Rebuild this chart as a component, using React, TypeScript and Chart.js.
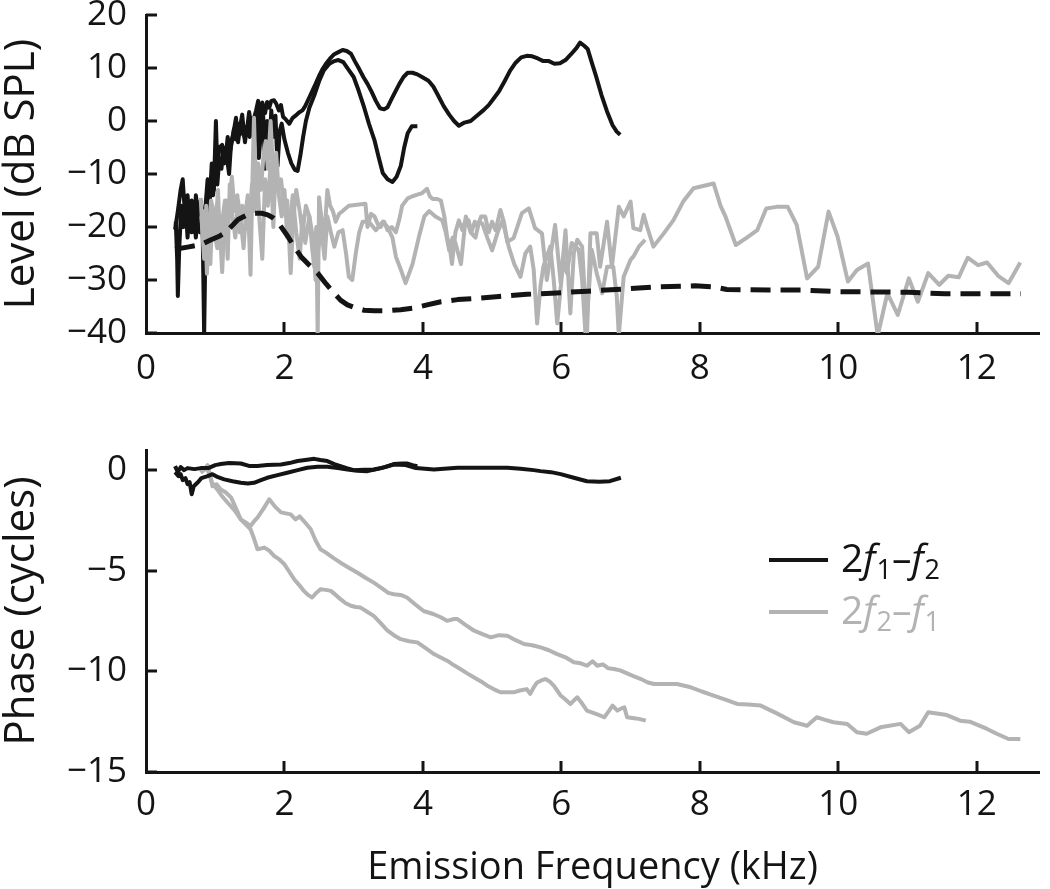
import React, { useEffect, useRef } from 'react';
import { Chart, registerables } from 'chart.js';

Chart.register(...registerables);

const FONT = '"Open Sans", "DejaVu Sans", sans-serif';
const BLACK = '#141414';
const GRAY = '#b3b3b3';

// ---------- tick values ----------
const freqTicks = [0, 2, 4, 6, 8, 10, 12];
const levelTicks = [-40, -30, -20, -10, 0, 10, 20];
const phaseTicks = [-15, -10, -5, 0];

// ---------- Level panel: [kHz, dB SPL] ----------
const levelBlackA: [number, number][] = [
  [0.42, -20.5], [0.46, -17], [0.5, -13], [0.53, -11], [0.56, -17], [0.6, -14], [0.63, -19], [0.66, -15],
  [0.7, -21], [0.72, -14], [0.76, -18], [0.79, -15], [0.82, -20], [0.86, -16], [0.89, -11], [0.92, -15],
  [0.95, -8], [0.98, -13], [1.01, 0], [1.03, -9], [1.06, -5], [1.1, -4.5], [1.13, -8], [1.16, -6],
  [1.2, -10], [1.23, -4], [1.26, -2.5], [1.3, 0.6], [1.33, -4], [1.36, -1], [1.39, 1.2], [1.42, -3],
  [1.46, -1.5], [1.49, 1.7], [1.52, -1], [1.55, 0], [1.59, 2], [1.62, 3.8], [1.65, -1], [1.68, 3.5],
  [1.72, 1.5], [1.75, 3.6], [1.78, 2.5], [1.81, 3.8], [1.85, 3.9], [1.88, 3.3], [1.92, 2], [1.95, 3],
  [1.98, 0.8], [2.02, 0.3], [2.07, -0.5], [2.12, 0.6], [2.16, 1], [2.21, 1.6], [2.26, 2], [2.3, 2.8],
  [2.35, 4.2], [2.4, 5.6], [2.45, 7], [2.5, 8.5], [2.55, 9.8], [2.6, 10.8], [2.66, 11.8], [2.72, 12.6],
  [2.78, 13], [2.84, 13.4], [2.9, 13.2], [2.96, 12.7], [3.02, 11.2], [3.08, 9.8], [3.14, 8.3], [3.2, 7],
  [3.26, 5.5], [3.32, 3.8], [3.38, 2.4], [3.44, 2.2], [3.49, 2.6], [3.55, 4.2], [3.6, 5.5], [3.66, 7],
  [3.72, 8.3], [3.78, 9.1], [3.85, 9.1], [3.92, 8.8], [4.0, 8.2], [4.08, 7.6], [4.15, 6.5], [4.22, 4.8],
  [4.3, 2.8], [4.38, 1.2], [4.45, 0], [4.52, -0.9], [4.6, -0.3], [4.69, 0], [4.78, 1], [4.88, 2.1],
  [4.95, 3], [5.02, 4.2], [5.1, 5.6], [5.18, 7.5], [5.26, 9.5], [5.34, 11], [5.42, 12], [5.5, 12.3],
  [5.58, 12.2], [5.66, 11.8], [5.74, 11.3], [5.82, 11.3], [5.9, 10.8], [5.98, 10.9], [6.06, 11.5],
  [6.14, 12.6], [6.22, 13.8], [6.27, 14.8], [6.33, 14.2], [6.38, 13.6], [6.44, 11], [6.5, 8.5],
  [6.58, 4.9], [6.66, 1.8], [6.74, -0.8], [6.8, -2], [6.85, -2.6],
];

const levelBlackB: [number, number][] = [
  [0.43, -19], [0.45, -26], [0.46, -33], [0.48, -24], [0.51, -16], [0.54, -20], [0.57, -15], [0.6, -22],
  [0.63, -16], [0.66, -21], [0.69, -17], [0.72, -22], [0.75, -16], [0.78, -21], [0.8, -17], [0.82, -22],
  [0.84, -40.5], [0.86, -22], [0.88, -15.5], [0.91, -17], [0.94, -12], [0.97, -14], [1.0, -9], [1.03, -12],
  [1.06, -7], [1.09, -9], [1.12, -5], [1.15, -7], [1.18, -3], [1.21, -6], [1.24, -4], [1.27, -1.5],
  [1.3, -3.5], [1.33, -0.5], [1.36, -2.5], [1.4, -0.5], [1.43, -4], [1.46, -1], [1.5, -3], [1.53, 0.5],
  [1.56, -2], [1.6, 1.5], [1.63, -7], [1.66, -2], [1.69, 2], [1.72, -9], [1.75, 0], [1.78, -6],
  [1.81, 2], [1.84, -3], [1.87, 1], [1.9, -8.5], [1.93, -2], [1.96, -0.5], [2.0, -3.5], [2.05, -6],
  [2.1, -8], [2.15, -9.2], [2.19, -9.4], [2.23, -6.5], [2.27, -3], [2.31, 0], [2.36, 2.5], [2.43, 4.8],
  [2.5, 7.5], [2.57, 9.6], [2.65, 10.8], [2.72, 11.3], [2.78, 11.5], [2.85, 11.1], [2.92, 9.8], [3.0, 8.3],
  [3.07, 5.8], [3.15, 2.6], [3.22, -0.5], [3.3, -3.6], [3.36, -6.8], [3.42, -9.8], [3.49, -11], [3.56, -11.5],
  [3.62, -10.5], [3.68, -8.5], [3.73, -5], [3.78, -2.3], [3.84, -1], [3.92, -1],
];

const levelGrayC: [number, number][] = [
  [0.79, -14.5], [0.82, -22], [0.85, -17], [0.88, -28.8], [0.91, -20], [0.94, -15], [0.97, -17], [1.0, -22],
  [1.03, -24], [1.06, -18], [1.1, -28.5], [1.13, -20], [1.17, -15], [1.2, -17], [1.24, -10.5], [1.28, -17],
  [1.32, -14], [1.35, -21], [1.39, -16], [1.43, -18], [1.47, -14], [1.51, -29], [1.54, -10], [1.56, 0.6],
  [1.59, -14], [1.62, -8], [1.66, -13], [1.7, -6], [1.73, -3.8], [1.76, -9], [1.8, 0], [1.83, -8],
  [1.86, -10], [1.9, -13], [1.95, -11], [2.0, -17], [2.04, -15], [2.09, -28.7], [2.13, -18], [2.17, -13],
  [2.22, -17], [2.26, -21], [2.31, -16], [2.36, -18], [2.4, -24], [2.43, -27.5], [2.46, -20], [2.48, -40.5],
  [2.5, -14.4], [2.54, -19], [2.57, -23], [2.62, -13], [2.66, -16], [2.7, -17], [2.74, -19], [2.79, -17.5],
  [2.84, -17], [2.93, -16], [3.05, -15.8], [3.17, -15.6], [3.2, -20], [3.25, -17.5], [3.3, -18], [3.35, -19.5],
  [3.39, -20], [3.44, -19], [3.49, -20.6], [3.55, -20], [3.61, -21], [3.66, -18.5], [3.7, -16], [3.78, -14.6],
  [3.85, -14.2], [3.92, -13.9], [3.99, -13.6], [4.06, -12.8], [4.1, -14.2], [4.14, -14.7], [4.2, -14.7],
  [4.26, -15], [4.31, -18], [4.35, -21.9], [4.39, -24], [4.42, -27], [4.47, -21], [4.52, -18.75], [4.57, -20.6],
  [4.62, -18.5], [4.66, -18.75], [4.7, -21], [4.75, -19], [4.79, -20], [4.84, -18], [4.9, -18], [4.95, -21],
  [5.0, -19], [5.05, -20.6], [5.12, -16.8], [5.17, -19], [5.22, -22.8], [5.31, -22.1], [5.43, -17.4],
  [5.53, -16.5], [5.62, -20.2], [5.72, -21.2], [5.79, -30], [5.86, -24], [5.91, -19.6], [5.99, -30.6],
  [6.06, -20.6], [6.13, -36.3], [6.18, -25], [6.23, -22.4], [6.3, -23.7], [6.37, -40.5], [6.42, -21.2],
  [6.51, -21.2], [6.56, -27.5], [6.66, -19], [6.73, -27.5], [6.83, -16.2], [6.9, -18], [7.0, -15.2],
  [7.04, -20.2], [7.14, -20.6], [7.19, -17.7], [7.24, -20], [7.33, -23.7], [7.48, -21.2], [7.62, -18.7],
  [7.76, -15.2], [7.91, -12.7], [8.2, -11.8], [8.3, -16], [8.37, -18], [8.52, -23.4], [8.67, -22.1],
  [8.83, -20.6], [8.96, -16.5], [9.11, -16.2], [9.27, -16.2], [9.4, -19.6], [9.55, -29.7], [9.71, -27.5],
  [9.86, -17.1], [9.99, -21.8], [10.14, -30.3], [10.27, -28.1], [10.43, -26.9], [10.57, -40.5], [10.71, -32.5],
  [10.86, -36.6], [11.02, -29.7], [11.15, -34.1], [11.3, -28.7], [11.46, -30.9], [11.59, -29.2], [11.74, -29.5],
  [11.87, -25.8], [12.02, -27.2], [12.15, -26.7], [12.31, -29.2], [12.46, -30.6], [12.63, -26.7],
];

const levelGrayD: [number, number][] = [
  [0.8, -18], [0.84, -26], [0.87, -16], [0.9, -22], [0.93, -27], [0.96, -16], [1.0, -21], [1.04, -13],
  [1.07, -24], [1.1, -19], [1.14, -15], [1.18, -26], [1.21, -12], [1.25, -18], [1.29, -22], [1.33, -15],
  [1.37, -19], [1.41, -24], [1.45, -16], [1.49, -21], [1.53, -12], [1.57, -17], [1.6, -8], [1.64, -19],
  [1.68, -26], [1.72, -11], [1.76, -16], [1.8, -8], [1.84, -20], [1.88, -6], [1.92, -14], [1.96, -18],
  [2.0, -13], [2.04, -22], [2.08, -19], [2.12, -14], [2.17, -21], [2.22, -26], [2.26, -18], [2.3, -23],
  [2.36, -18], [2.41, -22], [2.45, -30], [2.49, -24], [2.53, -20], [2.58, -26], [2.62, -18], [2.67, -21],
  [2.72, -23.7], [2.78, -21], [2.84, -20.6], [2.89, -25], [2.93, -29.4], [2.98, -30], [3.03, -25], [3.08, -21],
  [3.13, -19], [3.22, -19], [3.32, -20.6], [3.42, -19], [3.49, -20], [3.56, -22], [3.61, -25.6], [3.68, -28],
  [3.75, -30.6], [3.85, -27], [3.94, -22], [4.02, -18], [4.09, -17], [4.18, -18], [4.28, -18.75], [4.33, -21],
  [4.38, -24.4], [4.43, -22], [4.47, -23], [4.55, -27], [4.62, -18], [4.69, -21], [4.76, -22], [4.81, -19],
  [4.86, -19.4], [4.93, -22], [5.0, -24.4], [5.08, -21], [5.15, -18.75], [5.24, -23.75], [5.32, -27],
  [5.41, -29.4], [5.48, -25], [5.55, -23.7], [5.6, -28], [5.65, -38.2], [5.7, -31], [5.74, -27.5],
  [5.84, -23.7], [5.89, -30], [5.94, -38.2], [6.03, -26.2], [6.08, -28.7], [6.15, -23], [6.25, -24.3],
  [6.3, -30], [6.35, -40.5], [6.44, -24.3], [6.51, -28.7], [6.59, -32.5], [6.66, -27.5], [6.75, -27.5],
  [6.8, -33], [6.83, -40.5], [6.9, -29.4], [7.0, -26.2], [7.04, -25.6], [7.12, -23.7], [7.21, -22.4],
];

const levelNoiseFloor: [number, number][] = [
  [0.42, -24.2], [0.6, -23.8], [0.8, -23.3], [0.94, -22.4], [1.05, -21.8], [1.14, -21.1], [1.24, -19.8],
  [1.33, -18.6], [1.45, -17.8], [1.57, -17.4], [1.67, -17.4], [1.76, -17.7], [1.84, -18.3], [1.9, -19],
  [1.97, -20.3], [2.05, -21.8], [2.14, -23.7], [2.24, -25.6], [2.36, -27.2], [2.48, -28.7], [2.6, -30.7],
  [2.72, -32.5], [2.81, -33.8], [2.91, -34.7], [3.03, -35.3], [3.15, -35.7], [3.3, -35.8], [3.49, -35.8],
  [3.68, -35.6], [3.87, -35.3], [4.06, -34.7], [4.26, -34.1], [4.5, -33.7], [4.74, -33.5], [5.1, -33.1],
  [5.5, -32.7], [5.86, -32.5], [6.38, -32.1], [6.9, -31.7], [7.36, -31.3], [7.93, -31.1], [8.2, -31.3],
  [8.39, -31.8], [9.0, -31.9], [9.47, -31.9], [9.99, -32.2], [11.02, -32.3], [11.54, -32.6], [12.64, -32.6],
];

// ---------- Phase panel: [kHz, cycles] ----------
const phaseBlackA: [number, number][] = [
  [0.42, -0.1], [0.47, -0.3], [0.5, -0.2], [0.53, -0.5], [0.57, -0.4], [0.6, -0.7], [0.63, -0.6], [0.66, -1.2],
  [0.69, -0.8], [0.72, -0.7], [0.75, -0.6], [0.8, -0.4], [0.89, -0.3], [0.96, -0.2], [1.04, -0.35], [1.13, -0.46],
  [1.25, -0.55], [1.37, -0.63], [1.47, -0.66], [1.56, -0.63], [1.66, -0.5], [1.75, -0.38], [1.9, -0.25],
  [2.04, -0.13], [2.19, 0], [2.33, 0.12], [2.48, 0.17], [2.62, 0.17], [2.77, 0.1], [2.91, 0.03], [3.05, -0.03],
  [3.2, -0.05], [3.4, 0.1], [3.58, 0.28], [3.75, 0.25], [3.9, 0.1], [4.16, 0.03], [4.5, 0.12], [4.9, 0.12],
  [5.22, 0.12], [5.41, 0.07], [5.6, 0], [5.7, -0.05], [5.85, -0.1], [5.99, -0.2], [6.18, -0.38], [6.37, -0.55],
  [6.55, -0.58], [6.7, -0.55], [6.86, -0.38],
];

const phaseBlackB: [number, number][] = [
  [0.42, 0.2], [0.46, -0.1], [0.5, 0.15], [0.55, 0], [0.6, 0.1], [0.7, 0.05], [0.79, 0.1], [0.9, 0.1],
  [1.0, 0.25], [1.08, 0.3], [1.2, 0.35], [1.37, 0.33], [1.5, 0.2], [1.61, 0.2], [1.75, 0.25], [1.95, 0.28],
  [2.07, 0.35], [2.19, 0.45], [2.3, 0.5], [2.43, 0.56], [2.52, 0.5], [2.62, 0.45], [2.72, 0.3], [2.81, 0.2],
  [2.9, 0.1], [3.0, 0], [3.15, 0.02], [3.29, 0.03], [3.45, 0.15], [3.58, 0.3], [3.7, 0.33], [3.77, 0.33],
  [3.85, 0.25], [3.92, 0.2],
];

const phaseGrayC: [number, number][] = [
  [0.79, -0.13], [0.84, 0], [0.89, 0.25], [0.93, -0.3], [0.96, -0.8], [1.02, -0.7], [1.08, -0.96], [1.15, -1.1],
  [1.23, -1.37], [1.3, -1.9], [1.37, -2.45], [1.44, -2.6], [1.51, -2.78], [1.56, -2.55], [1.61, -2.36],
  [1.7, -1.9], [1.78, -1.45], [1.86, -1.8], [1.95, -2.1], [2.02, -2.15], [2.09, -2.2], [2.16, -2.45],
  [2.22, -2.3], [2.28, -2.53], [2.38, -2.94], [2.45, -3.5], [2.52, -3.93], [2.6, -4.1], [2.7, -4.35],
  [2.81, -4.6], [2.93, -4.85], [3.05, -5.09], [3.17, -5.35], [3.29, -5.59], [3.4, -5.85], [3.5, -6.1],
  [3.58, -6.17], [3.68, -6.2], [3.77, -6.33], [3.9, -6.7], [4.01, -7.0], [4.15, -7.15], [4.25, -7.3],
  [4.35, -7.49], [4.45, -7.4], [4.5, -7.4], [4.62, -7.7], [4.74, -7.98], [4.86, -8.15], [4.98, -8.31],
  [5.1, -8.2], [5.22, -8.23], [5.34, -8.45], [5.46, -8.64], [5.58, -8.7], [5.7, -8.81], [5.82, -8.95],
  [5.94, -9.14], [6.06, -9.3], [6.18, -9.55], [6.28, -9.6], [6.37, -9.72], [6.45, -9.5], [6.52, -9.72],
  [6.6, -9.65], [6.68, -9.85], [6.76, -9.88], [6.85, -9.95], [6.95, -10.1], [7.05, -10.25], [7.15, -10.38],
  [7.25, -10.55], [7.34, -10.63], [7.5, -10.63], [7.67, -10.63], [7.87, -10.79], [8.03, -11.0], [8.2, -11.2],
  [8.37, -11.4], [8.54, -11.62], [8.7, -11.65], [8.88, -11.7], [9.12, -12.1], [9.36, -12.53], [9.55, -12.7],
  [9.69, -12.28], [9.8, -12.4], [9.93, -12.53], [10.13, -12.61], [10.27, -13.02], [10.41, -13.1],
  [10.61, -12.78], [10.9, -12.61], [11.02, -13.02], [11.18, -12.7], [11.3, -12.03], [11.57, -12.17],
  [11.76, -12.45], [11.9, -12.5], [12.15, -12.86], [12.29, -13.1], [12.46, -13.36], [12.63, -13.36],
];

const phaseGrayD: [number, number][] = [
  [0.79, -0.1], [0.84, 0.1], [0.89, 0.03], [0.95, -0.6], [1.03, -0.96], [1.1, -1.3], [1.18, -1.62], [1.28, -2.0],
  [1.37, -2.45], [1.44, -2.7], [1.51, -2.94], [1.56, -3.4], [1.61, -3.93], [1.71, -3.85], [1.78, -4.0],
  [1.85, -4.26], [1.93, -4.45], [2.0, -4.68], [2.07, -5.05], [2.14, -5.42], [2.21, -5.7], [2.28, -6.0],
  [2.34, -6.2], [2.4, -6.33], [2.46, -6.1], [2.52, -5.92], [2.6, -5.95], [2.67, -6.0], [2.74, -6.2],
  [2.81, -6.41], [2.88, -6.6], [2.96, -6.74], [3.03, -6.8], [3.1, -6.83], [3.2, -7.05], [3.29, -7.24],
  [3.39, -7.6], [3.49, -7.98], [3.58, -8.2], [3.68, -8.4], [3.8, -8.5], [3.92, -8.56], [4.04, -8.85],
  [4.16, -9.14], [4.25, -9.3], [4.35, -9.47], [4.45, -9.7], [4.54, -9.88], [4.64, -10.1], [4.74, -10.3],
  [4.84, -10.5], [4.93, -10.71], [5.02, -10.88], [5.12, -11.04], [5.22, -11.04], [5.31, -11.04], [5.4, -10.95],
  [5.5, -10.88], [5.55, -11.12], [5.6, -10.8], [5.65, -10.55], [5.71, -10.45], [5.77, -10.38], [5.83, -10.5],
  [5.89, -10.71], [5.94, -10.95], [5.99, -11.2], [6.06, -11.4], [6.13, -11.62], [6.18, -11.45], [6.23, -11.29],
  [6.3, -11.6], [6.37, -11.95], [6.45, -12.05], [6.53, -12.15], [6.62, -12.28], [6.68, -12.0], [6.74, -11.7],
  [6.81, -11.95], [6.86, -11.85], [6.91, -11.79], [6.95, -12.28], [7.05, -12.33], [7.12, -12.36], [7.22, -12.45],
];

// ---------- helpers ----------
const toXY = (arr: [number, number][]) => arr.map(([x, y]) => ({ x, y }));
const fmt = (v: number) => (v < 0 ? '\u2212' + Math.abs(v) : String(v));

function lineDs(arr: [number, number][], color: string, width: number, dash: number[] = []) {
  return {
    data: toXY(arr),
    borderColor: color,
    backgroundColor: color,
    borderWidth: width,
    borderDash: dash,
    pointRadius: 0,
    tension: 0,
    fill: false,
    borderJoinStyle: 'round',
  };
}

const inwardTicks = {
  id: 'inwardTicks',
  afterDraw(chart: any) {
    const { ctx, chartArea: a, scales } = chart;
    ctx.save();
    ctx.strokeStyle = BLACK;
    ctx.lineWidth = 3;
    for (const t of scales.x.ticks) {
      if (t.value === 0) continue;
      const px = Math.round(scales.x.getPixelForValue(t.value));
      ctx.beginPath();
      ctx.moveTo(px, a.bottom);
      ctx.lineTo(px, a.bottom - 11);
      ctx.stroke();
    }
    for (const t of scales.y.ticks) {
      const py = Math.round(scales.y.getPixelForValue(t.value));
      ctx.beginPath();
      ctx.moveTo(a.left, py);
      ctx.lineTo(a.left + 11, py);
      ctx.stroke();
    }
    ctx.restore();
  },
};

type Part = { t: string; italic?: boolean; sub?: boolean };
const legendEntries: { parts: Part[]; color: string }[] = [
  { parts: [{ t: '2' }, { t: 'f', italic: true }, { t: '1', sub: true }, { t: '\u2013' }, { t: 'f', italic: true }, { t: '2', sub: true }], color: BLACK },
  { parts: [{ t: '2' }, { t: 'f', italic: true }, { t: '2', sub: true }, { t: '\u2013' }, { t: 'f', italic: true }, { t: '1', sub: true }], color: GRAY },
];

const phaseLegend = {
  id: 'phaseLegend',
  afterDraw(chart: any) {
    const { ctx, chartArea: a } = chart;
    ctx.save();
    legendEntries.forEach((e, i) => {
      const ly = a.top + 110 + i * 52;
      const lx = a.left + 623;
      ctx.strokeStyle = e.color;
      ctx.lineWidth = 4;
      ctx.beginPath();
      ctx.moveTo(lx, ly);
      ctx.lineTo(lx + 59, ly);
      ctx.stroke();
      let x = lx + 72;
      const base = ly + 12;
      ctx.fillStyle = e.color;
      ctx.textBaseline = 'alphabetic';
      ctx.textAlign = 'left';
      for (const p of e.parts) {
        const size = p.sub ? 27 : 39;
        ctx.font = `${p.italic ? 'italic ' : ''}${size}px ${FONT}`;
        ctx.fillText(p.t, x, base + (p.sub ? 7 : 0));
        x += ctx.measureText(p.t).width + (p.italic ? 1 : 0);
      }
    });
    ctx.restore();
  },
};

function axisX(height: number, pad: number, title?: string) {
  return {
    type: 'linear',
    min: 0,
    max: 12.9,
    afterBuildTicks: (s: any) => {
      s.ticks = freqTicks.map((v) => ({ value: v }));
    },
    afterFit: (s: any) => {
      s.height = height;
    },
    grid: { display: false, drawTicks: false },
    border: { display: true, color: BLACK, width: 3 },
    ticks: { color: BLACK, font: { family: FONT, size: 35 }, padding: pad, maxRotation: 0, autoSkip: false, callback: fmt },
    title: title
      ? { display: true, text: title, color: BLACK, font: { family: FONT, size: 38, lineHeight: 1.1 }, padding: 0 }
      : { display: false },
  };
}

function axisY(min: number, max: number, ticks: number[], title: string) {
  return {
    type: 'linear',
    min,
    max,
    afterBuildTicks: (s: any) => {
      s.ticks = ticks.map((v) => ({ value: v }));
    },
    afterFit: (s: any) => {
      s.width = 146;
    },
    grid: { display: false, drawTicks: false },
    border: { display: true, color: BLACK, width: 3 },
    ticks: { color: BLACK, font: { family: FONT, size: 35 }, padding: 19, autoSkip: false, callback: fmt },
    title: { display: true, text: title, color: BLACK, font: { family: FONT, size: 42, lineHeight: 1.05 }, padding: 0 },
  };
}

function levelConfig(): any {
  return {
    type: 'line',
    data: {
      datasets: [
        lineDs(levelNoiseFloor, BLACK, 5, [20, 10]),
        lineDs(levelGrayD, GRAY, 4),
        lineDs(levelGrayC, GRAY, 4),
        lineDs(levelBlackB, BLACK, 4),
        lineDs(levelBlackA, BLACK, 4),
      ],
    },
    options: {
      responsive: false,
      animation: false,
      layout: { padding: { top: 50, right: 11, left: 0, bottom: 0 } },
      plugins: { legend: { display: false }, tooltip: { enabled: false } },
      scales: {
        x: axisX(67, 15),
        y: axisY(-40, 20, levelTicks, 'Level (dB SPL)'),
      },
    },
    plugins: [inwardTicks],
  };
}

function phaseConfig(): any {
  return {
    type: 'line',
    data: {
      datasets: [
        lineDs(phaseBlackA, BLACK, 4),
        lineDs(phaseBlackB, BLACK, 4),
        lineDs(phaseGrayC, GRAY, 4),
        lineDs(phaseGrayD, GRAY, 4),
      ],
    },
    options: {
      responsive: false,
      animation: false,
      layout: { padding: { top: 50, right: 11, left: 0, bottom: 0 } },
      plugins: { legend: { display: false }, tooltip: { enabled: false } },
      scales: {
        x: axisX(117, 12, 'Emission Frequency (kHz)'),
        y: axisY(-15, 1, phaseTicks, 'Phase (cycles)'),
      },
    },
    plugins: [inwardTicks, phaseLegend],
  };
}

export default function App() {
  const topRef = useRef<HTMLCanvasElement>(null);
  const botRef = useRef<HTMLCanvasElement>(null);

  useEffect(() => {
    Chart.defaults.font.family = FONT;
    const c1 = new Chart(topRef.current as HTMLCanvasElement, levelConfig());
    const c2 = new Chart(botRef.current as HTMLCanvasElement, phaseConfig());
    return () => {
      c1.destroy();
      c2.destroy();
    };
  }, []);

  return (
    <div style={{ position: 'absolute', left: 0, top: 0, width: 1050, height: 889, background: '#fff', overflow: 'hidden' }}>
      <canvas ref={topRef} width={1050} height={435} style={{ position: 'absolute', left: 0, top: -35, display: 'block' }} />
      <canvas ref={botRef} width={1050} height={489} style={{ position: 'absolute', left: 0, top: 400, display: 'block' }} />
    </div>
  );
}
